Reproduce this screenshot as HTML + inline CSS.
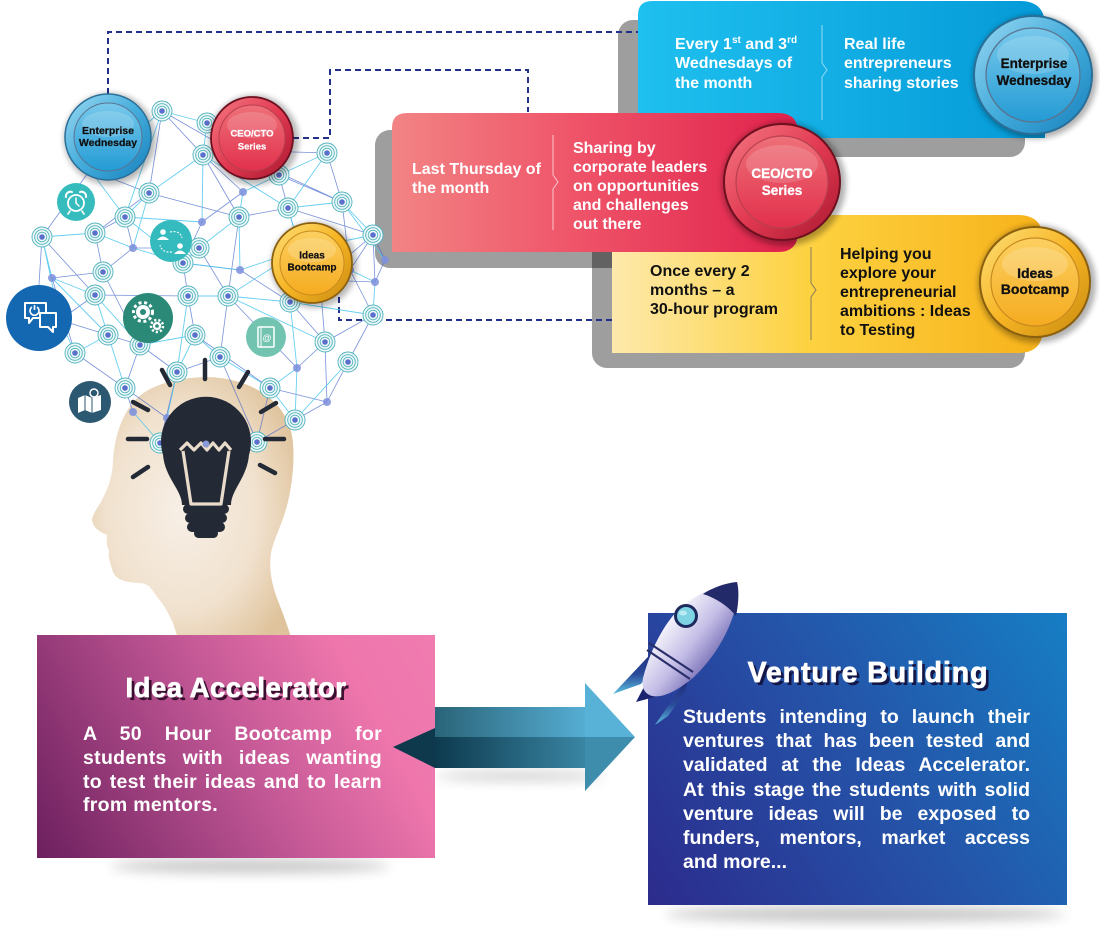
<!DOCTYPE html>
<html><head><meta charset="utf-8"><style>
html,body{margin:0;padding:0;background:#fff}
body{width:1100px;height:930px;position:relative;overflow:hidden;font-family:"Liberation Sans",Arial,sans-serif}
.abs{position:absolute}
.ttl{color:#fff;font-weight:bold;text-align:center;white-space:nowrap;-webkit-text-stroke:.7px #fff}
.body{color:#fff;font-weight:bold}
.body div{white-space:nowrap;text-align:justify;text-align-last:justify}
.body div.l{text-align:left;text-align-last:left}
</style></head><body>
<svg class="abs" style="left:0;top:0" width="1100" height="930" viewBox="0 0 1100 930" xmlns="http://www.w3.org/2000/svg">
<defs>
<filter id="b3" x="-30%" y="-30%" width="160%" height="160%"><feGaussianBlur stdDeviation="3"/></filter>
<filter id="b6" x="-30%" y="-100%" width="160%" height="300%"><feGaussianBlur stdDeviation="6"/></filter>
<radialGradient id="gHead" cx="45%" cy="50%" r="62%"><stop offset="0" stop-color="#f7efe6"/><stop offset=".6" stop-color="#f1e2cf"/><stop offset="1" stop-color="#dfc39c"/></radialGradient>
<linearGradient id="gBlue" x1="0" x2="1"><stop offset="0" stop-color="#1ec0ef"/><stop offset="1" stop-color="#059ad8"/></linearGradient>
<linearGradient id="gRed" x1="0" x2="1"><stop offset="0" stop-color="#f28484"/><stop offset=".45" stop-color="#ef5469"/><stop offset="1" stop-color="#e0214b"/></linearGradient>
<linearGradient id="gYel" x1="0" x2="1"><stop offset="0" stop-color="#fde9ac"/><stop offset=".45" stop-color="#fdd241"/><stop offset="1" stop-color="#f7b21a"/></linearGradient>
<linearGradient id="mbO" x1="0" y1="0" x2="1" y2="1"><stop offset="0" stop-color="#9ad8f2"/><stop offset=".5" stop-color="#45addc"/><stop offset="1" stop-color="#1680bc"/></linearGradient>
<linearGradient id="mbI" x1="0" y1="0" x2="0" y2="1"><stop offset="0" stop-color="#78c9ec"/><stop offset="1" stop-color="#249bd4"/></linearGradient>
<linearGradient id="mrO" x1="0" y1="0" x2="1" y2="1"><stop offset="0" stop-color="#f47a82"/><stop offset=".5" stop-color="#e23a52"/><stop offset="1" stop-color="#a81830"/></linearGradient>
<linearGradient id="mrI" x1="0" y1="0" x2="0" y2="1"><stop offset="0" stop-color="#ee7078"/><stop offset="1" stop-color="#e2304c"/></linearGradient>
<linearGradient id="myO" x1="0" y1="0" x2="1" y2="1"><stop offset="0" stop-color="#fde07a"/><stop offset=".5" stop-color="#f7b524"/><stop offset="1" stop-color="#c88a10"/></linearGradient>
<linearGradient id="myI" x1="0" y1="0" x2="0" y2="1"><stop offset="0" stop-color="#fcd060"/><stop offset="1" stop-color="#f5ab20"/></linearGradient>
<linearGradient id="gPink" gradientUnits="userSpaceOnUse" x1="37" y1="858" x2="435" y2="635"><stop offset="0" stop-color="#6c1f5e"/><stop offset=".5" stop-color="#c25795"/><stop offset=".8" stop-color="#ee76ac"/><stop offset="1" stop-color="#f07cb0"/></linearGradient>
<linearGradient id="gVB" gradientUnits="userSpaceOnUse" x1="648" y1="905" x2="1067" y2="613"><stop offset="0" stop-color="#2c2b8c"/><stop offset=".55" stop-color="#2456aa"/><stop offset="1" stop-color="#167ec4"/></linearGradient>
<linearGradient id="aTop" x1="0" x2="1"><stop offset="0" stop-color="#2a6478"/><stop offset="1" stop-color="#56aed4"/></linearGradient>
<linearGradient id="aBot" x1="0" x2="1"><stop offset="0" stop-color="#0d3a4e"/><stop offset="1" stop-color="#3a86a4"/></linearGradient>
<g id="nd"><circle r="10" fill="#eef8f9" stroke="#4fb3bc" stroke-width=".9"/><circle r="7.3" fill="none" stroke="#4fb3bc" stroke-width=".9"/><circle r="4.8" fill="none" stroke="#4fb3bc" stroke-width=".9"/><circle r="2.8" fill="#5b70cc"/></g>
<g id="dt"><circle r="4" fill="#7d8fdc" opacity=".85"/></g>
</defs>

<!-- head -->
<path d="M180 645 L173 623 C168 612 163 604 158 598 C152 590 150 584 140 583 C128 583 116 580 113 572 C111 566 110 562 109 558 C108 555 110 551 108 548 C106 544 107 540 107 535 C100 532 93 528 92 520 C93 512 100 505 103 498 C108 488 112 478 113 462 C114 440 120 418 135 400 C150 385 175 378 205 377 C240 377 275 392 288 422 C296 440 294 470 290 492 C286 515 278 530 273 545 C268 560 270 580 277 598 C282 612 288 625 293 645 Z" fill="url(#gHead)"/>

<!-- soft shadows under boxes -->
<ellipse cx="250" cy="866" rx="140" ry="7" fill="#000" opacity=".22" filter="url(#b6)"/>
<ellipse cx="865" cy="914" rx="200" ry="8" fill="#000" opacity=".22" filter="url(#b6)"/>
<ellipse cx="520" cy="776" rx="85" ry="5" fill="#000" opacity=".18" filter="url(#b6)"/>

<!-- gray banner shadows -->
<rect x="618" y="20" width="407" height="137" rx="15" fill="#000" opacity=".38"/>
<rect x="592" y="232" width="433" height="136" rx="15" fill="#000" opacity=".38"/>
<rect x="375" y="130" width="425" height="138" rx="15" fill="#000" opacity=".38"/>

<!-- dashed connectors -->
<g fill="none" stroke="#23308a" stroke-width="2" stroke-dasharray="6 4">
<path d="M108 94 V32 H638"/>
<path d="M293 138 H330 V70 H528 V112"/>
<path d="M339 297 V320 H612"/>
</g>

<!-- blue banner -->
<path d="M638 15 Q638 1 652 1 L1020 1 Q1045 1 1045 26 L1045 138 L638 138 Z" fill="url(#gBlue)"/>
<path d="M822 25 V63 L827 70 L822 77 V120" fill="none" stroke="#fff" stroke-opacity=".55" stroke-width="1"/>
<g font-family="Liberation Sans, Arial, sans-serif" font-weight="bold" font-size="16" fill="#fff">
<text x="675" y="49">Every 1<tspan font-size="10" dy="-6">st</tspan><tspan dy="6"> and 3</tspan><tspan font-size="10" dy="-6">rd</tspan></text>
<text x="675" y="68">Wednesdays of</text>
<text x="675" y="88">the month</text>
<text x="844" y="49">Real life</text>
<text x="844" y="68">entrepreneurs</text>
<text x="844" y="88">sharing stories</text>
</g>
<circle cx="1035" cy="77" r="62" fill="#000" opacity=".3" filter="url(#b3)"/>
<circle cx="1033" cy="75" r="59" fill="url(#mbO)" stroke="#2a6f98" stroke-width="2"/>
<circle cx="1033" cy="75" r="47" fill="url(#mbI)" stroke="#5a7390" stroke-width="1.3"/>
<ellipse cx="1033" cy="55" rx="36" ry="19" fill="#fff" opacity=".16"/>
<g font-family="Liberation Sans, Arial, sans-serif" font-weight="bold" font-size="13.5" fill="#111" stroke="#111" stroke-width=".3" text-anchor="middle">
<text x="1034" y="68">Enterprise</text><text x="1034" y="85">Wednesday</text></g>

<!-- yellow banner -->
<path d="M612 215 L1018 215 Q1043 215 1043 240 L1043 328 Q1043 353 1018 353 L612 353 Z" fill="url(#gYel)"/>
<path d="M811 247 V283 L816 290 L811 297 V340" fill="none" stroke="#8a7a5a" stroke-width="1"/>
<g font-family="Liberation Sans, Arial, sans-serif" font-weight="bold" font-size="16" fill="#111">
<text x="650" y="276">Once every 2</text>
<text x="650" y="295">months – a</text>
<text x="650" y="314">30-hour program</text>
<text x="840" y="259">Helping you</text>
<text x="840" y="278">explore your</text>
<text x="840" y="297">entrepreneurial</text>
<text x="840" y="316">ambitions : Ideas</text>
<text x="840" y="335">to Testing</text>
</g>

<!-- red banner -->
<path d="M392 128 Q392 113 407 113 L778 113 Q798 113 798 133 L798 232 Q798 252 778 252 L392 252 Z" fill="url(#gRed)"/>
<path d="M553 135 V175 L558 182 L553 189 V230" fill="none" stroke="#fff" stroke-opacity=".65" stroke-width="1"/>
<g font-family="Liberation Sans, Arial, sans-serif" font-weight="bold" font-size="16" fill="#fff">
<text x="412" y="174">Last Thursday of</text>
<text x="412" y="193">the month</text>
<text x="573" y="153">Sharing by</text>
<text x="573" y="172">corporate leaders</text>
<text x="573" y="191">on opportunities</text>
<text x="573" y="210">and challenges</text>
<text x="573" y="229">out there</text>
</g>
<circle cx="784" cy="184" r="62" fill="#000" opacity=".3" filter="url(#b3)"/>
<circle cx="782" cy="182" r="58" fill="url(#mrO)" stroke="#6e1020" stroke-width="2"/>
<circle cx="782" cy="182" r="46" fill="url(#mrI)" stroke="#b84050" stroke-width="1.2"/>
<ellipse cx="782" cy="164" rx="36" ry="19" fill="#fff" opacity=".15"/>
<g font-family="Liberation Sans, Arial, sans-serif" font-weight="bold" font-size="13.5" fill="#fff" stroke="#fff" stroke-width=".3" text-anchor="middle">
<text x="782" y="178">CEO/CTO</text><text x="782" y="195">Series</text></g>

<!-- yellow medallion -->
<circle cx="1037" cy="284" r="59" fill="#000" opacity=".3" filter="url(#b3)"/>
<circle cx="1035" cy="282" r="55" fill="url(#myO)" stroke="#8a6010" stroke-width="2"/>
<circle cx="1035" cy="282" r="44" fill="url(#myI)" stroke="#c88a20" stroke-width="1.2"/>
<ellipse cx="1035" cy="264" rx="33" ry="17" fill="#fff" opacity=".18"/>
<g font-family="Liberation Sans, Arial, sans-serif" font-weight="bold" font-size="14" fill="#111" stroke="#111" stroke-width=".3" text-anchor="middle">
<text x="1035" y="278">Ideas</text><text x="1035" y="294">Bootcamp</text></g>

<!-- network lines -->
<path fill="none" stroke="#3f63cc" stroke-opacity=".7" stroke-width=".8" d="M162 111L203 155 M162 111L149 193 M207 123L279 175 M203 155L239 217 M203 155L243 192 M230 150L327 153 M327 153L342 202 M279 175L288 208 M243 192L202 222 M288 208L239 217 M288 208L373 235 M342 202L350 270 M239 217L228 296 M125 217L95 233 M125 217L133 248 M202 222L183 263 M95 233L103 272 M42 237L90 170 M90 170L149 193 M373 235L375 282 M300 250L290 302 M350 270L373 315 M199 248L228 296 M133 248L103 272 M183 263L188 296 M103 272L52 278 M375 282L320 280 M320 280L325 342 M95 295L188 296 M188 296L195 335 M228 296L220 357 M290 302L325 342 M373 315L348 362 M108 335L140 345 M75 353L125 388 M60 320L95 295 M140 345L177 372 M220 357L257 442 M177 372L160 443 M325 342L297 368 M348 362L327 402 M125 388L133 412 M270 388L257 442 M327 402L295 420 M160 443L167 418 M140 345L125 388 M240 270L290 302 M42 237L95 295 M373 315L325 342 M149 193L239 217 M230 150L342 202 M90 170L42 237 M52 278L75 353 M288 208L300 250 M183 263L240 270 M103 272L140 345 M195 335L270 388 M125 388L167 418 M320 280L373 235 M228 296L297 368 M162 111L230 150 M279 175L342 202 M373 235L350 270 M60 320L108 335 M325 342L327 402 M42 237L38 300 M38 300L60 320 M385 260L373 235 M385 260L375 282 M133 248L199 248 M95 233L149 193 M270 388L327 402 M177 372L220 357 M257 442L295 420"/>
<path fill="none" stroke="#4cc6ee" stroke-opacity=".85" stroke-width=".9" d="M162 111L207 123 M207 123L203 155 M207 123L230 150 M203 155L149 193 M203 155L202 222 M230 150L279 175 M327 153L279 175 M327 153L288 208 M279 175L243 192 M243 192L239 217 M288 208L342 202 M342 202L373 235 M239 217L199 248 M239 217L240 270 M125 217L149 193 M125 217L202 222 M95 233L42 237 M95 233L133 248 M42 237L52 278 M90 170L125 217 M90 170L162 111 M373 235L300 250 M300 250L288 208 M300 250L228 296 M350 270L375 282 M199 248L183 263 M133 248L183 263 M52 278L95 295 M375 282L373 315 M320 280L290 302 M95 295L108 335 M188 296L228 296 M228 296L290 302 M290 302L373 315 M108 335L75 353 M108 335L125 388 M195 335L140 345 M195 335L220 357 M195 335L177 372 M75 353L60 320 M220 357L270 388 M177 372L167 418 M297 368L270 388 M297 368L295 420 M270 388L295 420 M133 412L160 443 M257 442L167 418 M290 302L297 368 M240 270L183 263 M149 193L133 248 M230 150L203 155 M162 111L125 217 M42 237L60 320 M348 362L295 420 M125 217L183 263 M203 155L288 208 M95 295L140 345 M228 296L325 342 M52 278L108 335 M240 270L300 250 M342 202L385 260 M188 296L177 372"/>

<!-- nodes -->
<use href="#nd" x="162" y="111"/><use href="#nd" x="207" y="123"/><use href="#nd" x="203" y="155"/><use href="#nd" x="327" y="153"/>
<use href="#nd" x="149" y="193"/><use href="#nd" x="279" y="175"/><use href="#nd" x="288" y="208"/><use href="#nd" x="342" y="202"/>
<use href="#nd" x="239" y="217"/><use href="#nd" x="125" y="217"/><use href="#nd" x="95" y="233"/><use href="#nd" x="42" y="237"/>
<use href="#nd" x="373" y="235"/><use href="#nd" x="199" y="248"/><use href="#nd" x="183" y="263"/><use href="#nd" x="103" y="272"/>
<use href="#nd" x="95" y="295"/><use href="#nd" x="188" y="296"/><use href="#nd" x="228" y="296"/><use href="#nd" x="290" y="302"/>
<use href="#nd" x="373" y="315"/><use href="#nd" x="108" y="335"/><use href="#nd" x="195" y="335"/><use href="#nd" x="75" y="353"/>
<use href="#nd" x="220" y="357"/><use href="#nd" x="177" y="372"/><use href="#nd" x="325" y="342"/><use href="#nd" x="348" y="362"/>
<use href="#nd" x="125" y="388"/><use href="#nd" x="270" y="388"/><use href="#nd" x="295" y="420"/><use href="#nd" x="160" y="443"/>
<use href="#nd" x="257" y="442"/><use href="#nd" x="140" y="345"/>
<use href="#dt" x="243" y="192"/><use href="#dt" x="202" y="222"/><use href="#dt" x="133" y="248"/><use href="#dt" x="52" y="278"/>
<use href="#dt" x="375" y="282"/><use href="#dt" x="297" y="368"/><use href="#dt" x="327" y="402"/><use href="#dt" x="133" y="412"/>
<use href="#dt" x="167" y="418"/><use href="#dt" x="90" y="170"/><use href="#dt" x="230" y="150"/><use href="#dt" x="300" y="250"/>
<use href="#dt" x="350" y="270"/><use href="#dt" x="60" y="320"/><use href="#dt" x="240" y="270"/><use href="#dt" x="320" y="280"/>
<use href="#dt" x="385" y="260"/><use href="#dt" x="38" y="300"/>

<!-- icons -->
<circle cx="76" cy="202" r="19" fill="#37bcbd"/>
<g fill="none" stroke="#fff" stroke-linecap="round"><circle cx="76" cy="203" r="8" stroke-width="1.8"/><path d="M76 198V203L79 206" stroke-width="1.5"/><path d="M66 197a4.5 4.5 0 0 1 6-5 M86 197a4.5 4.5 0 0 0 -6-5" stroke-width="2"/><path d="M70 211l-2 3 M82 211l2 3" stroke-width="1.6"/></g>

<circle cx="171" cy="241" r="21" fill="#35bbbd"/>
<g fill="#fff"><circle cx="163" cy="232" r="2.8"/><path d="M157 240 q6 -7 12 0 z"/><circle cx="180" cy="246" r="2.8"/><path d="M174 254 q6 -7 12 0 z"/></g>
<g fill="none" stroke="#fff" stroke-width="1.1" stroke-dasharray="2 1.5"><path d="M170 232 Q180 230 182 238"/><path d="M172 252 Q162 253 160 245"/></g>

<circle cx="39" cy="318" r="33" fill="#1467b1"/>
<g fill="none" stroke="#fff" stroke-width="2" stroke-linejoin="round"><path d="M25 303 H46 V318 H33 L29 323 V318 H25 Z"/><path d="M40 313 H56 V327 H53 V332 L48 327 H40 Z" fill="#1467b1"/><path d="M32 307 a4.5 4.5 0 1 0 5 0 M34.5 305 V310" stroke-width="1.6"/></g>

<circle cx="148" cy="318" r="25" fill="#2b8977"/>
<g><circle cx="143" cy="312" r="9.5" fill="none" stroke="#fff" stroke-width="3" stroke-dasharray="3 2.7"/><circle cx="143" cy="312" r="7" fill="#fff"/><circle cx="143" cy="312" r="3" fill="#2b8977"/>
<circle cx="157" cy="326" r="6" fill="none" stroke="#fff" stroke-width="2.5" stroke-dasharray="2.2 2"/><circle cx="157" cy="326" r="4.2" fill="#fff"/><circle cx="157" cy="326" r="1.8" fill="#2b8977"/></g>

<circle cx="266" cy="337" r="20" fill="#73c3b1"/>
<rect x="258" y="327" width="16" height="20" rx="1" fill="none" stroke="#fff" stroke-width="1.5"/><line x1="261" y1="327" x2="261" y2="347" stroke="#fff" stroke-width="1"/>
<text x="267" y="341" font-family="Liberation Sans, Arial, sans-serif" font-size="9" fill="#fff" text-anchor="middle">@</text>

<circle cx="90" cy="402" r="21" fill="#2c5871"/>
<path d="M78 398 L85 395 L92 398 L101 395 L101 410 L92 413 L85 410 L78 413 Z" fill="#fff"/>
<path d="M85 395V410 M92 398V413" stroke="#2c5871" stroke-width="1"/>
<circle cx="94" cy="393" r="4" fill="#2c5871" stroke="#fff" stroke-width="1.5"/>

<!-- small medallions -->
<circle cx="110" cy="139" r="46" fill="#000" opacity=".28" filter="url(#b3)"/>
<circle cx="108" cy="137" r="43" fill="url(#mbO)" stroke="#2a6f98" stroke-width="1.5"/>
<circle cx="108" cy="137" r="34" fill="url(#mbI)" stroke="#5a7390" stroke-width="1"/>
<ellipse cx="108" cy="124" rx="26" ry="13" fill="#fff" opacity=".16"/>
<g font-family="Liberation Sans, Arial, sans-serif" font-weight="bold" font-size="10.5" fill="#111" stroke="#111" stroke-width=".25" text-anchor="middle"><text x="108" y="134">Enterprise</text><text x="108" y="146">Wednesday</text></g>

<circle cx="254" cy="140" r="45" fill="#000" opacity=".28" filter="url(#b3)"/>
<circle cx="252" cy="138" r="41" fill="url(#mrO)" stroke="#6e1020" stroke-width="1.8"/>
<circle cx="252" cy="138" r="33" fill="url(#mrI)" stroke="#b84050" stroke-width="1"/>
<ellipse cx="252" cy="125" rx="25" ry="13" fill="#fff" opacity=".15"/>
<g font-family="Liberation Sans, Arial, sans-serif" font-weight="bold" font-size="9.5" fill="#fff" stroke="#fff" stroke-width=".2" text-anchor="middle"><text x="252" y="136.5">CEO/CTO</text><text x="252" y="149.5">Series</text></g>

<circle cx="314" cy="265" r="43" fill="#000" opacity=".28" filter="url(#b3)"/>
<circle cx="312" cy="263" r="40" fill="url(#myO)" stroke="#8a6010" stroke-width="1.8"/>
<circle cx="312" cy="263" r="32" fill="url(#myI)" stroke="#c88a20" stroke-width="1"/>
<ellipse cx="312" cy="250" rx="24" ry="12" fill="#fff" opacity=".18"/>
<g font-family="Liberation Sans, Arial, sans-serif" font-weight="bold" font-size="10" fill="#111" stroke="#111" stroke-width=".25" text-anchor="middle"><text x="312" y="258.5">Ideas</text><text x="312" y="270.5">Bootcamp</text></g>

<!-- bulb -->
<g stroke="#232a35" stroke-width="4.5" stroke-linecap="round">
<path d="M205 360 V379 M162 370 L170 385 M248 372 L239 387 M133 402 L148 410 M276 403 L261 412 M128 439 H147 M265 439 H284 M133 477 L148 467 M260 465 L275 473"/>
</g>
<path d="M182 505 C182 490 165 478 163 455 A45 45 0 1 1 249 455 C247 478 231 490 231 505 Z" fill="#232a35"/>
<g fill="#232a35"><rect x="183" y="504" width="46" height="10" rx="5"/><rect x="185" y="513" width="42" height="10" rx="5"/><rect x="187" y="522" width="38" height="10" rx="5"/><rect x="194" y="529" width="24" height="9" rx="4.5"/></g>
<g fill="none" stroke="#eadccb" stroke-width="3.2" stroke-linejoin="round"><path d="M180 450 L187 443 L194 450 L201 443 L207 450 L213 443 L219 450 L225 443 L231 450"/><path d="M183 451 L191 504 H221 L229 451"/></g>
<circle cx="206" cy="444" r="3.5" fill="#8a9ad8"/>

<!-- pink box -->
<rect x="37" y="635" width="398" height="223" fill="url(#gPink)"/>
<!-- venture box -->
<rect x="648" y="613" width="419" height="292" fill="url(#gVB)"/>

<!-- arrow -->
<rect x="435" y="707" width="151" height="30" fill="url(#aTop)"/>
<rect x="435" y="737" width="151" height="31" fill="url(#aBot)"/>
<path d="M585 683 L635 737 L585 737 Z" fill="#58b2d8"/>
<path d="M585 737 L635 737 L585 791 Z" fill="#3f8dad"/>
<path d="M393 747 L435 728 L435 768 Z" fill="#0e394d"/>
</svg>

<div class="abs ttl" style="left:37px;width:398px;top:672px;font-size:27.5px;line-height:32px;letter-spacing:.5px;text-shadow:3px 3px 0 #3a0f30">Idea Accelerator</div>
<div class="abs body" style="left:83px;width:299px;top:723px;font-size:19.5px;line-height:23.8px;letter-spacing:.3px">
<div>A 50 Hour Bootcamp for</div>
<div>students with ideas wanting</div>
<div>to test their ideas and to learn</div>
<div class="l">from mentors.</div>
</div>

<div class="abs ttl" style="left:700px;width:336px;top:657px;font-size:28.5px;line-height:32px;letter-spacing:.9px;text-shadow:3px 3px 0 #141645">Venture Building</div>
<div class="abs body" style="left:683px;width:347px;top:705px;font-size:19.5px;line-height:24.2px">
<div>Students intending to launch their</div>
<div>ventures that has been tested and</div>
<div>validated at the Ideas Accelerator.</div>
<div>At this stage the students with solid</div>
<div>venture ideas will be exposed to</div>
<div>funders, mentors, market access</div>
<div class="l">and more...</div>
</div>

<!-- rocket -->
<svg class="abs" style="left:0;top:0" width="1100" height="930" viewBox="0 0 1100 930" xmlns="http://www.w3.org/2000/svg">
<defs>
<linearGradient id="rBody" gradientUnits="userSpaceOnUse" x1="665" y1="625" x2="712" y2="662"><stop offset="0" stop-color="#f4f3fb"/><stop offset=".55" stop-color="#c3bde6"/><stop offset="1" stop-color="#7c73b8"/></linearGradient>
<linearGradient id="rFin" x1="0" y1="0" x2="0" y2="1"><stop offset="0" stop-color="#1c2470"/><stop offset=".6" stop-color="#2a4a9a"/><stop offset="1" stop-color="#5cc0e0"/></linearGradient>
</defs>
<path d="M660 644 L613 694 L641 684 L652 668 Z" fill="url(#rFin)"/>
<path d="M690 674 L655 725 L668 716 L684 694 Z" fill="url(#rFin)"/>
<path d="M646 683 L636 702 L658 696 Z" fill="#1c2470"/>
<path d="M737 582 C720 584 696 594 680 608 C664 624 651 648 643 678 C641 688 645 694 652 696 C662 698 676 692 694 677 C716 656 730 630 736 606 C739 596 739 588 737 582 Z" fill="url(#rBody)"/>
<path d="M737 582 C725 583 712 588 703 594 C716 598 728 606 736 616 C739 602 739 590 737 582 Z" fill="#232a6a"/>
<circle cx="686" cy="616" r="12" fill="#1d2a5e"/>
<circle cx="686" cy="616" r="9" fill="#7fd4e4"/>
<ellipse cx="683" cy="613" rx="4" ry="2.5" fill="#c8f0f6" opacity=".8"/>
<path d="M649 643 L693 672 M647 650 L690 679" stroke="#2a2f6a" stroke-width="2.2" fill="none"/>
</svg>
</body></html>
